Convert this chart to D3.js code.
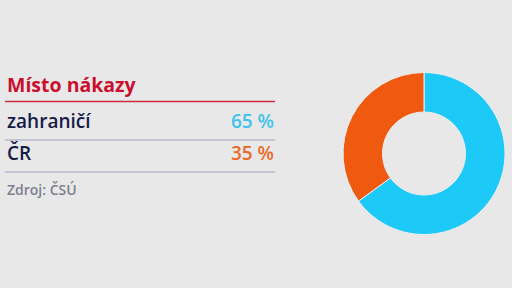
<!DOCTYPE html>
<html><head><meta charset="utf-8">
<script src="https://cdn.jsdelivr.net/npm/d3@7"></script>
<style>
html,body{margin:0;padding:0;background:#e8e8e8;}
svg{display:block;font-family:"Open Sans",sans-serif;}
</style></head>
<body><svg id="c" width="512" height="288"></svg>
<script>
const title = "Místo nákazy";
const categories = ["zahraničí", "ČR"];
const values = [65, 35];
const valueLabels = ["65 %", "35 %"];
const source = "Zdroj: ČSÚ";
const sliceColors = ["#1dc9f6", "#f05a10"];
const textColors = ["#3ec3ea", "#ea6a2a"];

const svg = d3.select("#c");
svg.append("rect").attr("width",512).attr("height",288).attr("fill","#e8e8e8");

const x0 = 5, x1 = 275;
svg.append("text").attr("x",7).attr("y",92).text(title)
  .attr("fill","#c8102e").attr("font-size",19.5).attr("font-weight",700);
svg.append("line").attr("x1",x0).attr("x2",x1).attr("y1",101.5).attr("y2",101.5)
  .attr("stroke","#cc2b3c").attr("stroke-width",1.4);

const rowY = d3.scalePoint().domain(categories).range([128, 160]);
categories.forEach((c,i)=>{
  const y = rowY(c);
  svg.append("text").attr("x",7).attr("y",y).text(c)
    .attr("fill","#151b45").attr("font-size",19).attr("font-weight",600);
  svg.append("text").attr("x",274).attr("y",y).attr("text-anchor","end").text(valueLabels[i])
    .attr("fill",textColors[i]).attr("font-size",19).attr("font-weight",600);
  svg.append("line").attr("x1",x0).attr("x2",x1).attr("y1",y+12).attr("y2",y+12)
    .attr("stroke", "#a4a6bc").attr("stroke-width",1);
});
svg.append("text").attr("x",7).attr("y",195).text(source)
  .attr("fill","#7c7f8e").attr("font-size",14).attr("font-weight",600);

const cx = 424, cy = 153.5, R = 81, r = 41.5;
const pie = d3.pie().sort(null).value(d=>d)(values);
const arc = d3.arc().innerRadius(r).outerRadius(R);
const g = svg.append("g").attr("transform",`translate(${cx},${cy})`);
g.selectAll("path").data(pie).join("path")
  .attr("d",arc).attr("fill",(d,i)=>sliceColors[i])
  .attr("stroke","#eeeeee").attr("stroke-width",1);
</script></body></html>
